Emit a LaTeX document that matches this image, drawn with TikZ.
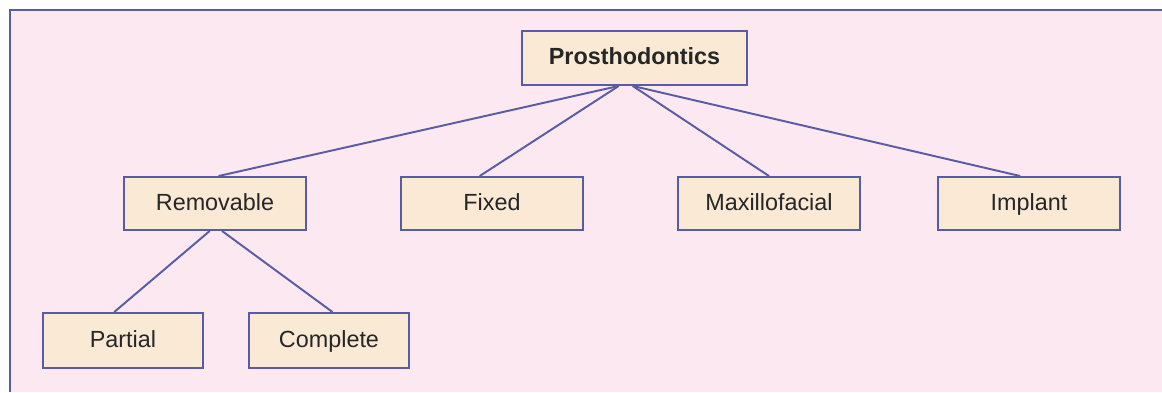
\documentclass[tikz,border=0pt]{standalone}
\usepackage{fontspec}
\setmainfont{Liberation Sans}
\usepackage{xcolor}
\usetikzlibrary{positioning,calc}
\definecolor{framebg}{HTML}{FCE8F1}
\definecolor{boxfill}{HTML}{F9E9D5}
\definecolor{edgeblue}{HTML}{5A5CA3}

\begin{document}
\begin{tikzpicture}[x=0.02cm,y=-0.02cm,
    box/.style={draw=edgeblue, line width=1.1pt, fill=boxfill, text=black!85,
        font=\fontsize{13.3}{16}\selectfont, inner sep=0pt,
        text height=0.74em, text depth=0em},
    midbox/.style={box, minimum width=3.64cm, minimum height=1.06cm},
    lowbox/.style={box, minimum width=3.2cm, minimum height=1.1cm},
    link/.style={draw=edgeblue, line width=1.1pt}]
    \useasboundingbox (0,0) rectangle (1162,392);
    % background panel
    \fill[framebg] (10,10) rectangle (1162,392);
    \draw[edgeblue, line width=1.1pt] (10,392) -- (10,10) -- (1162,10);

    \node[box, font=\fontsize{13.3}{16}\selectfont\bfseries,
        minimum width=4.5cm, minimum height=1.08cm] (pros) at (634.5,58) {Prosthodontics};

    \foreach \nm/\xx/\lbl in {remov/215/Removable, fixed/492/Fixed, maxfac/769/Maxillofacial, implant/1029/Implant} {
        \node[midbox] (\nm) at (\xx,203.5) {\lbl};
    }
    \node[lowbox] (partial) at (123,340.5) {Partial};
    \node[lowbox] (complete) at (329,340.5) {Complete};

    % branches
    \draw[link] ([xshift=-9pt]pros.south) -- ([xshift=2pt]remov.north);
    \draw[link] ([xshift=-9pt]pros.south) -- ([xshift=-7pt]fixed.north);
    \draw[link] ([xshift=-1pt]pros.south) -- (maxfac.north);
    \draw[link] ([xshift=-1pt]pros.south) -- ([xshift=-5pt]implant.north);
    \draw[link] ([xshift=-3pt]remov.south) -- ([xshift=-5pt]partial.north);
    \draw[link] ([xshift=4pt]remov.south) -- ([xshift=2pt]complete.north);
\end{tikzpicture}
\end{document}
